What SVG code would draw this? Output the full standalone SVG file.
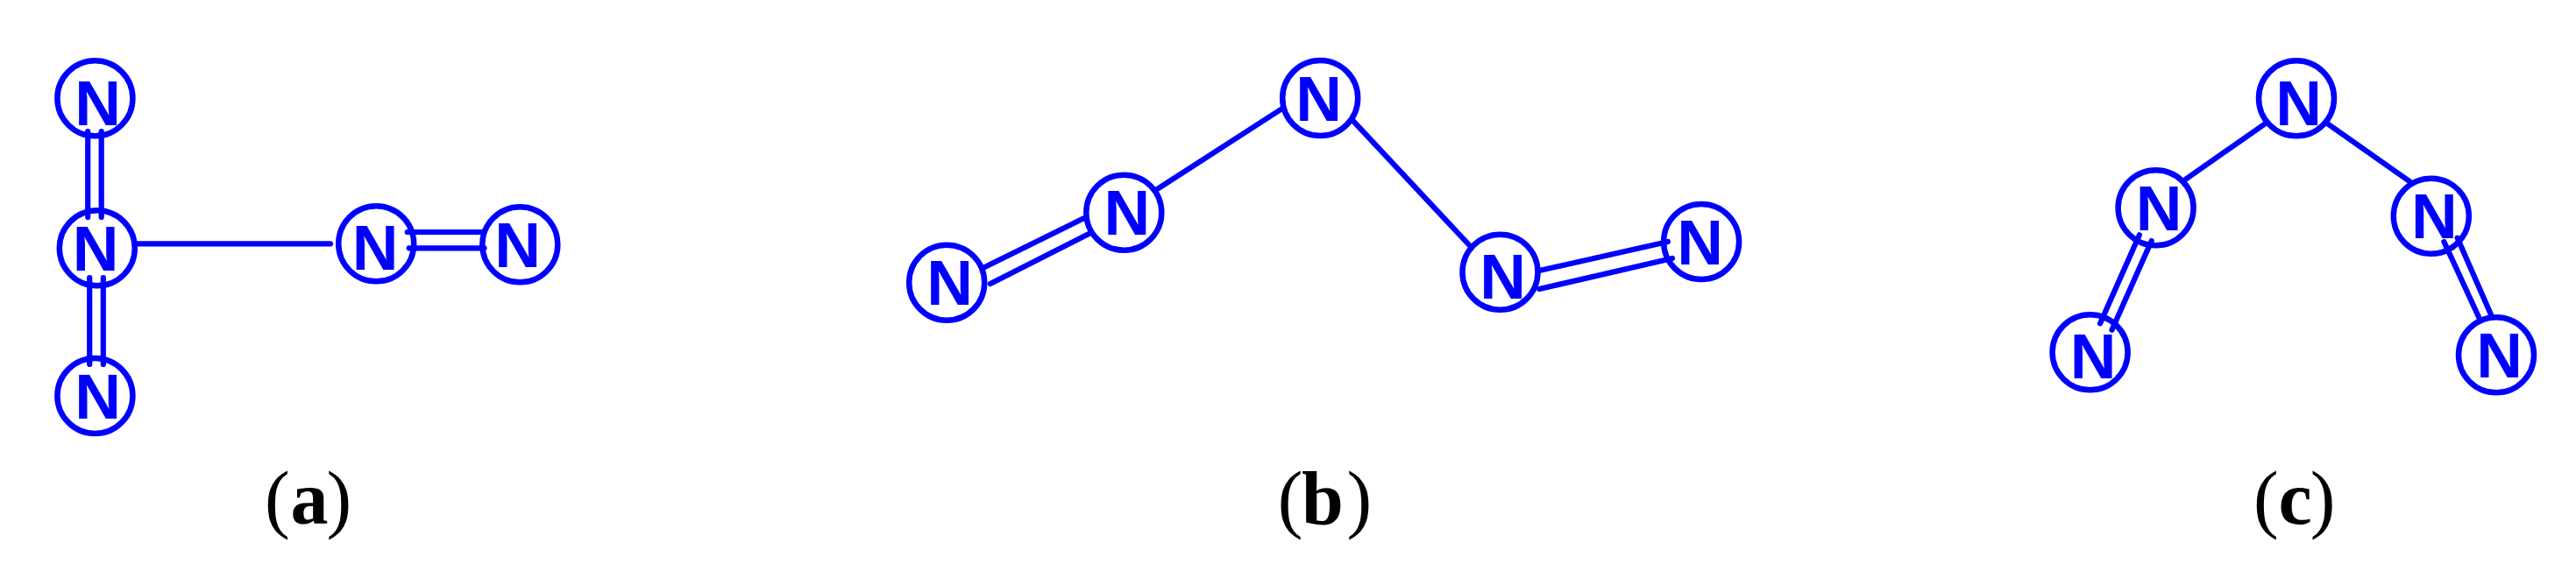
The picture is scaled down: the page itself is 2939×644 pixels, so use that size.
<svg xmlns="http://www.w3.org/2000/svg" width="2939" height="644" viewBox="0 0 2939 644">
<style>
.n{fill:none;stroke:#0000ff;stroke-width:6.5}
.t{fill:#0000ff;font-family:"Liberation Sans",Arial,sans-serif;font-weight:700;font-size:73px;text-anchor:middle}
.c line{stroke:#0000ff;stroke-width:6.2;stroke-linecap:round}
.l{fill:#000;font-family:"Liberation Serif","Times New Roman",serif;font-size:86px}
.l .b{font-weight:700}
</style>
<rect width="2939" height="644" fill="#fff"/>
<g id="connectors" class="c">
<line x1="100.2" y1="150" x2="100.2" y2="248"/>
<line x1="115.7" y1="150" x2="115.7" y2="248"/>
<line x1="102.2" y1="317" x2="102.2" y2="416"/>
<line x1="117.8" y1="317" x2="117.8" y2="416"/>
<line x1="154.5" y1="278.3" x2="377" y2="278.3"/>
<line x1="464.7" y1="265" x2="550" y2="265"/>
<line x1="466.7" y1="283.3" x2="552.5" y2="283.3"/>
<line x1="1123.5" y1="305" x2="1236.4" y2="249.3"/>
<line x1="1129.9" y1="324" x2="1242.8" y2="266.7"/>
<line x1="1319.3" y1="216.7" x2="1462.8" y2="124"/>
<line x1="1542.5" y1="136.7" x2="1676.4" y2="280"/>
<line x1="1754.9" y1="309.3" x2="1902.9" y2="276"/>
<line x1="1756.2" y1="330" x2="1908" y2="295"/>
<line x1="2583.6" y1="141.7" x2="2491.8" y2="206"/>
<line x1="2656.3" y1="141.7" x2="2749.3" y2="207.3"/>
<line x1="2440.9" y1="268.3" x2="2396.1" y2="369.3"/>
<line x1="2454.7" y1="275" x2="2409.5" y2="376.7"/>
<line x1="2788.4" y1="276" x2="2828.6" y2="363.3"/>
<line x1="2803.7" y1="271.7" x2="2842" y2="359.3"/>
</g>
<g id="a1"><circle class="n" cx="108.4" cy="112.3" r="43"/><text class="t" x="111.6" y="142.7">N</text></g>
<g id="a2"><circle class="n" cx="110.8" cy="283.3" r="43"/><text class="t" x="109" y="308.7">N</text></g>
<g id="a3"><circle class="n" cx="108.4" cy="452" r="43"/><text class="t" x="111.6" y="477.7">N</text></g>
<g id="a4"><circle class="n" cx="429.2" cy="278.3" r="43"/><text class="t" x="428" y="307.7">N</text></g>
<g id="a5"><circle class="n" cx="593.3" cy="279.3" r="43"/><text class="t" x="590.6" y="305">N</text></g>
<g id="b1"><circle class="n" cx="1080.2" cy="322.7" r="43"/><text class="t" x="1083.7" y="347.7">N</text></g>
<g id="b2"><circle class="n" cx="1282.3" cy="242.7" r="43"/><text class="t" x="1285.8" y="267.7">N</text></g>
<g id="b3"><circle class="n" cx="1506.2" cy="112" r="43"/><text class="t" x="1504.6" y="137.7">N</text></g>
<g id="b4"><circle class="n" cx="1711.5" cy="310.7" r="43"/><text class="t" x="1714.7" y="341">N</text></g>
<g id="b5"><circle class="n" cx="1941.1" cy="276" r="43"/><text class="t" x="1939.5" y="301.7">N</text></g>
<g id="c1"><circle class="n" cx="2620" cy="112.3" r="43"/><text class="t" x="2622.7" y="142.7">N</text></g>
<g id="c2"><circle class="n" cx="2459.6" cy="237.3" r="43"/><text class="t" x="2463" y="262.7">N</text></g>
<g id="c3"><circle class="n" cx="2773.8" cy="246.7" r="43"/><text class="t" x="2777.3" y="271.7">N</text></g>
<g id="c4"><circle class="n" cx="2384.6" cy="402.3" r="43"/><text class="t" x="2388" y="431.7">N</text></g>
<g id="c5"><circle class="n" cx="2848" cy="405.3" r="43"/><text class="t" x="2851.7" y="430.7">N</text></g>
<text class="l" y="597.7"><tspan x="302">(</tspan><tspan class="b" x="331.5">a</tspan><tspan x="372.5">)</tspan></text>
<text class="l" y="597.7"><tspan x="1457.7">(</tspan><tspan class="b" x="1485">b</tspan><tspan x="1536.5">)</tspan></text>
<text class="l" y="597.7"><tspan x="2571">(</tspan><tspan class="b" x="2599.5">c</tspan><tspan x="2635.8">)</tspan></text>
</svg>
